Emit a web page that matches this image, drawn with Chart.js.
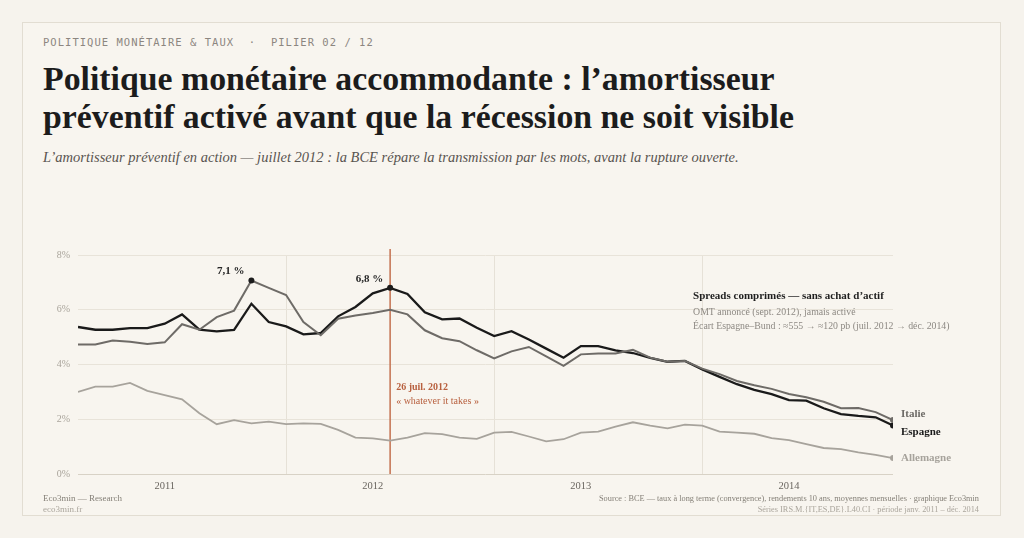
<!DOCTYPE html>
<html lang="fr">
<head>
<meta charset="utf-8">
<script src="https://cdn.jsdelivr.net/npm/chart.js@4/dist/chart.umd.min.js"></script>
<style>
  html, body { margin: 0; padding: 0; background: #f6f3ed; }
  body { width: 1024px; height: 538px; position: relative; overflow: hidden; font-family: "Liberation Serif", serif; }
  .card { position: absolute; left: 22px; top: 22px; width: 977px; height: 492px; border: 1.5px solid #e2ddd2; background: #f8f5ef; }
  .kicker { position: absolute; left: 43px; top: 36px; font: 10.5px "DejaVu Sans Mono", monospace; letter-spacing: 1.03px; color: #8c8680; white-space: pre; }
  h1 { position: absolute; left: 43px; top: 60px; margin: 0; font: bold 33.8px/38px "Liberation Serif", serif; color: #1c1c1c; }
  .sub { position: absolute; left: 43px; top: 149px; font: italic 14.5px "Liberation Serif", serif; color: #585450; }
  .wrap { position: absolute; left: 22px; top: 238px; width: 980px; height: 262px; }
  .foot { position: absolute; font-size: 9px; line-height: 11px; }
  .fl { left: 43px; top: 493px; color: #858078; }
  .fr { right: 45px; top: 493px; text-align: right; color: #858078; font-size: 8.3px; }
  .foot .s { color: #aaa59c; }
</style>
</head>
<body>
<div class="card"></div>
<div class="kicker">POLITIQUE MONÉTAIRE &amp; TAUX  ·  PILIER 02 / 12</div>
<h1>Politique monétaire accommodante : l’amortisseur<br>préventif activé avant que la récession ne soit visible</h1>
<div class="sub">L’amortisseur préventif en action — juillet 2012 : la BCE répare la transmission par les mots, avant la rupture ouverte.</div>
<div class="wrap"><canvas id="chart"></canvas></div>
<div class="foot fl">Eco3min — Research<br><span class="s">eco3min.fr</span></div>
<div class="foot fr">Source : BCE — taux à long terme (convergence), rendements 10 ans, moyennes mensuelles · graphique Eco3min<br><span class="s">Séries IRS.M.{IT,ES,DE}.L40.CI · période janv. 2011 – déc. 2014</span></div>

<script>
// rendements 10 ans, moyennes mensuelles, janv. 2011 -> déc. 2014 (48 mois)
const espagne = [
  5.37, 5.27, 5.27, 5.33, 5.33, 5.49, 5.83, 5.27, 5.21, 5.26, 6.22, 5.55,
  5.39, 5.10, 5.15, 5.76, 6.10, 6.60, 6.80, 6.58, 5.91, 5.65, 5.68, 5.34,
  5.04, 5.22, 4.91, 4.58, 4.25, 4.67, 4.67, 4.52, 4.42, 4.24, 4.10, 4.13,
  3.82, 3.55, 3.28, 3.07, 2.92, 2.70, 2.68, 2.40, 2.19, 2.12, 2.07, 1.77
];
const italie = [
  4.73, 4.73, 4.88, 4.83, 4.75, 4.81, 5.47, 5.27, 5.73, 5.97, 7.07, 6.80,
  6.54, 5.55, 5.07, 5.67, 5.79, 5.88, 6.00, 5.83, 5.25, 4.96, 4.85, 4.52,
  4.22, 4.48, 4.64, 4.30, 3.95, 4.37, 4.40, 4.40, 4.54, 4.25, 4.10, 4.13,
  3.85, 3.65, 3.40, 3.24, 3.11, 2.92, 2.80, 2.64, 2.40, 2.41, 2.26, 1.97
];
const allemagne = [
  3.00, 3.19, 3.19, 3.33, 3.04, 2.88, 2.73, 2.22, 1.82, 1.97, 1.85, 1.91,
  1.82, 1.85, 1.83, 1.61, 1.33, 1.30, 1.22, 1.33, 1.49, 1.46, 1.33, 1.28,
  1.51, 1.54, 1.37, 1.19, 1.27, 1.51, 1.55, 1.73, 1.89, 1.77, 1.67, 1.80,
  1.77, 1.55, 1.51, 1.47, 1.31, 1.24, 1.09, 0.95, 0.91, 0.79, 0.70, 0.58
];
const years = ['2011', '2012', '2013', '2014'];
const yearLabelIdx = [5, 17, 29, 41];
const yearStartIdx = [12, 24, 36];
const yTicks = [0, 2, 4, 6, 8];
const wiltIdx = 18; // 26 juil. 2012
const peaks = [
  { series: 'Italie', idx: 10, text: '7,1 %' },
  { series: 'Espagne', idx: 18, text: '6,8 %' }
];

const SERIF = '"Liberation Serif", serif';
const RUST = '#b8603f';
const lastIdx = espagne.length - 1;

const toPoints = arr => arr.map((v, i) => ({ x: i, y: v }));
const isPeak = (name, i) => peaks.some(p => p.series === name && p.idx === i);

const makeSet = (label, values, color, width, endNudge) => ({
  label,
  data: toPoints(values),
  borderColor: color,
  borderWidth: width,
  tension: 0,
  endColor: color,
  endNudge,
  pointRadius: ctx => (ctx.dataIndex === lastIdx || isPeak(label, ctx.dataIndex)) ? 3 : 0,
  pointBackgroundColor: ctx => isPeak(label, ctx.dataIndex) ? '#1c1c1c' : color,
  pointBorderWidth: 0,
  pointHoverRadius: 0
});

const datasets = [
  makeSet('Allemagne', allemagne, '#a7a39c', 1.8, 0),
  makeSet('Italie', italie, '#6e6b67', 2, -6),
  makeSet('Espagne', espagne, '#1a1a1a', 2.3, 7)
];

const annotations = {
  id: 'annotations',
  beforeDatasetsDraw(chart) {
    const { ctx, chartArea, scales: { x } } = chart;
    const px = x.getPixelForValue(wiltIdx);
    ctx.save();
    ctx.strokeStyle = '#c4704f';
    ctx.lineWidth = 1.5;
    ctx.beginPath();
    ctx.moveTo(px, chartArea.top - 6);
    ctx.lineTo(px, chartArea.bottom);
    ctx.stroke();
    ctx.restore();
  },
  afterDatasetsDraw(chart) {
    const { ctx, scales: { x, y } } = chart;
    ctx.save();
    ctx.textBaseline = 'middle';

    // pics
    ctx.textAlign = 'right';
    ctx.fillStyle = '#262626';
    ctx.font = `bold 11px ${SERIF}`;
    peaks.forEach(p => {
      const ds = datasets.find(d => d.label === p.series);
      const pt = ds.data[p.idx];
      ctx.fillText(p.text, x.getPixelForValue(pt.x) - 7, y.getPixelForValue(pt.y) - 9);
    });

    // libellés de fin de courbe
    ctx.textAlign = 'left';
    ctx.font = `bold 11px ${SERIF}`;
    datasets.forEach(ds => {
      const pt = ds.data[lastIdx];
      ctx.fillStyle = ds.endColor;
      ctx.fillText(ds.label, x.getPixelForValue(pt.x) + 8, y.getPixelForValue(pt.y) + ds.endNudge);
    });

    // whatever it takes
    const wx = x.getPixelForValue(wiltIdx) + 6;
    ctx.fillStyle = RUST;
    ctx.font = `bold 10px ${SERIF}`;
    ctx.fillText('26 juil. 2012', wx, y.getPixelForValue(3.18));
    ctx.font = `10px ${SERIF}`;
    ctx.fillText('« whatever it takes »', wx, y.getPixelForValue(2.67));

    // encadré OMT
    const ax = x.getPixelForValue(35.47);
    ctx.fillStyle = '#1f1f1f';
    ctx.font = `bold 11px ${SERIF}`;
    ctx.fillText('Spreads comprimés — sans achat d’actif', ax, y.getPixelForValue(6.48));
    ctx.fillStyle = '#8d8983';
    ctx.font = `9.8px ${SERIF}`;
    ctx.fillText('OMT annoncé (sept. 2012), jamais activé', ax, y.getPixelForValue(5.9));
    ctx.fillText('Écart Espagne–Bund : ≈555 → ≈120 pb (juil. 2012 → déc. 2014)', ax, y.getPixelForValue(5.39));
    ctx.restore();
  }
};

new Chart(document.getElementById('chart'), {
  type: 'line',
  data: { datasets },
  options: {
    responsive: true,
    maintainAspectRatio: false,
    animation: false,
    layout: { padding: { top: 17, right: 109, bottom: 2, left: 0 } },
    plugins: {
      legend: { display: false },
      tooltip: { enabled: false }
    },
    scales: {
      x: {
        type: 'linear',
        min: 0,
        max: lastIdx,
        afterBuildTicks: scale => {
          scale.ticks = [...yearLabelIdx, ...yearStartIdx].sort((a, b) => a - b).map(value => ({ value }));
        },
        afterFit: scale => { scale.height = 24; },
        ticks: {
          autoSkip: false,
          maxRotation: 0,
          padding: 6,
          color: '#6a6660',
          font: { family: SERIF, size: 10.5 },
          callback: value => {
            const k = yearLabelIdx.indexOf(value);
            return k >= 0 ? years[k] : '';
          }
        },
        grid: {
          drawTicks: false,
          color: ctx => yearStartIdx.includes(ctx.tick && ctx.tick.value) ? '#e6e1d7' : 'transparent',
          lineWidth: 1
        },
        border: { display: false }
      },
      y: {
        min: 0,
        max: 8,
        afterBuildTicks: scale => { scale.ticks = yTicks.map(value => ({ value })); },
        afterFit: scale => { scale.width = 56; },
        ticks: {
          padding: 8,
          color: '#a9a49b',
          font: { family: SERIF, size: 10 },
          callback: value => value + '%'
        },
        grid: {
          drawTicks: false,
          color: ctx => ctx.tick && ctx.tick.value === 0 ? '#d8d2c6' : '#e8e3d9',
          lineWidth: 1
        },
        border: { display: false }
      }
    }
  },
  plugins: [annotations]
});
</script>
</body>
</html>
